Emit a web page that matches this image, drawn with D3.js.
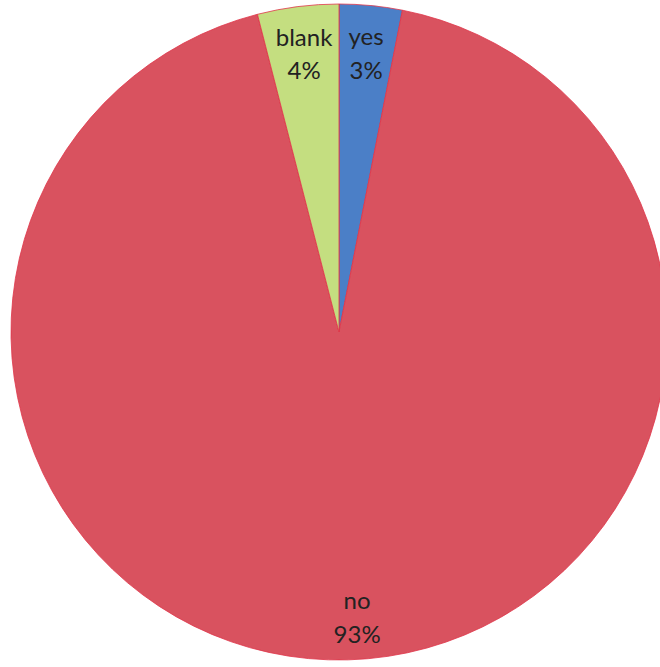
<!DOCTYPE html>
<html>
<head>
<meta charset="utf-8">
<script src="https://cdn.jsdelivr.net/npm/d3@7"></script>
<style>
  html, body { margin: 0; padding: 0; background: #fff; overflow: hidden; }
  svg { display: block; }
</style>
</head>
<body>
<div id="chart"></div>
<script>
// answers, clockwise from 12 o'clock
const categories = ["yes", "no", "blank"];
const values = [3.1, 92.9, 4.0];
const pctLabels = ["3%", "93%", "4%"];
const colors = ["#4b7fc7", "#d9525f", "#c4de80"];

const width = 660, height = 667;
const cx = 339, cy = 332, radius = 328;

const svg = d3.select("#chart").append("svg")
    .attr("width", width)
    .attr("height", height);

const g = svg.append("g").attr("transform", `translate(${cx},${cy})`);

const pie = d3.pie().sort(null).value(d => d.value);
const data = categories.map((c, i) => ({ name: c, value: values[i], pct: pctLabels[i], color: colors[i] }));
const arcs = pie(data);

const arc = d3.arc().innerRadius(0).outerRadius(radius);

g.selectAll("path")
    .data(arcs)
    .join("path")
    .attr("d", arc)
    .attr("fill", d => d.data.color)
    .attr("stroke", "#e0364a")
    .attr("stroke-width", 0.8);

// big slice label sits a bit further out, like the original
const labelArc = d => {
    const big = (d.endAngle - d.startAngle) > Math.PI;
    const r = big ? radius * 0.875 : radius * 0.85;
    return d3.arc().innerRadius(r).outerRadius(r).centroid(d);
};

const labels = g.selectAll("text.lbl")
    .data(arcs)
    .join("text")
    .attr("class", "lbl")
    .attr("transform", d => {
        const [x, y] = labelArc(d);
        const nudge = (d.endAngle - d.startAngle) > Math.PI ? 10 : 0;
        return `translate(${x + nudge},${y})`;
    })
    .attr("text-anchor", "middle")
    .style("font-family", "Lato, 'Open Sans', sans-serif")
    .style("font-size", "24px")
    .style("fill", "#222");

labels.append("tspan")
    .attr("x", 0)
    .attr("dy", "-0.4em")
    .text(d => d.data.name);

labels.append("tspan")
    .attr("x", 0)
    .attr("dy", "1.4em")
    .text(d => d.data.pct);
</script>
</body>
</html>
